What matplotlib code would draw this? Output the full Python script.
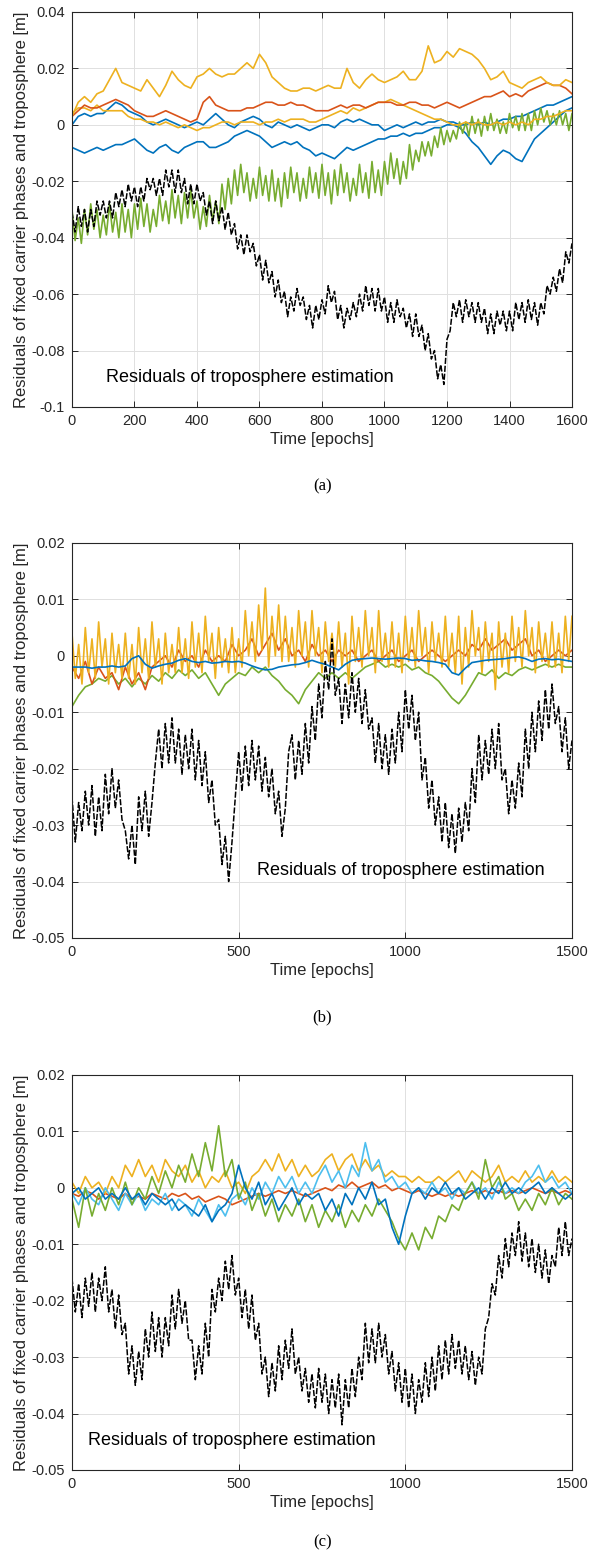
import numpy as np
import matplotlib
matplotlib.use('Agg')
import matplotlib.pyplot as plt

# residuals in mm
# smooth series: one sample every 20 epochs, noisy series: every 10 epochs
coarse = 20
fine = 10

# ---- panel (a) ----
a_yellow1 = [3, 8, 10, 8, 11, 12, 16, 20, 15, 14,
             13, 12, 16, 13, 10, 14, 19, 16, 14, 13,
             17, 18, 20, 18, 17, 18, 18, 20, 22, 20,
             25, 22, 17, 15, 13, 12, 12, 13, 13, 12,
             13, 14, 13, 13, 20, 15, 13, 16, 18, 16,
             15, 16, 17, 19, 16, 16, 19, 28, 22, 23,
             26, 24, 27, 26, 25, 23, 20, 16, 17, 19,
             15, 14, 13, 15, 16, 17, 15, 14, 14, 16,
             15]
a_yellow2 = [4, 6, 6, 5, 7, 5, 5, 5, 5, 3,
             2, 2, 1, 1, 0, 1, 0, -1, 0, -1,
             -2, -1, -1, 0, 1, 1, 0, 1, 1, 1,
             0, 1, 1, 2, 1, 2, 2, 2, 1, 1,
             2, 3, 4, 5, 4, 6, 5, 6, 7, 8,
             8, 9, 8, 7, 6, 5, 4, 3, 2, 2,
             1, 0, 0, 1, 0, 1, 0, 0, 1, 0,
             1, 0, 1, 0, 2, 2, 3, 3, 4, 5,
             5]
a_orange = [3, 5, 7, 6, 6, 7, 8, 9, 8, 7,
            5, 4, 3, 3, 4, 5, 4, 3, 2, 1,
            2, 8, 10, 7, 6, 5, 5, 5, 6, 6,
            7, 8, 8, 7, 7, 8, 7, 7, 6, 5,
            5, 5, 6, 7, 6, 7, 7, 6, 7, 8,
            8, 8, 7, 7, 8, 8, 7, 7, 6, 7,
            8, 7, 6, 7, 8, 9, 10, 10, 11, 12,
            10, 11, 10, 12, 13, 14, 15, 14, 14, 13,
            11]
a_blue1 = [0, 3, 4, 3, 4, 4, 6, 8, 7, 5,
           4, 3, 1, 0, 1, 2, 1, 0, -1, 0,
           1, 0, 2, 4, 2, 0, -1, 1, 2, 3,
           2, 0, -1, 1, 0, -1, 0, -1, -2, -1,
           0, 0, -1, 1, 2, 1, 2, 1, 0, 0,
           -2, -1, 0, -1, 0, 1, 0, 1, 1, 2,
           1, 1, 0, 0, 1, 0, 1, 0, 1, 2,
           2, 3, 3, 4, 5, 6, 7, 7, 8, 9,
           10]
a_blue2 = [-8, -9, -10, -9, -8, -9, -8, -7, -7, -6,
           -5, -7, -9, -10, -8, -7, -9, -10, -8, -7,
           -6, -6, -8, -8, -7, -6, -4, -3, -2, -3,
           -4, -6, -8, -7, -6, -7, -6, -8, -9, -11,
           -10, -11, -12, -10, -8, -9, -8, -7, -6, -5,
           -5, -4, -4, -3, -4, -3, -3, -2, -1, -1,
           0, 0, -1, -3, -6, -8, -11, -14, -11, -9,
           -10, -12, -13, -9, -5, -3, -1, 1, 3, 5,
           6]
a_green = [-30, -41, -33, -42, -30, -39, -28, -37, -30, -40,
           -32, -39, -28, -38, -31, -40, -28, -38, -30, -40,
           -28, -37, -26, -36, -28, -38, -30, -36, -25, -34,
           -27, -35, -23, -33, -25, -35, -24, -33, -23, -33,
           -27, -37, -29, -36, -25, -34, -27, -35, -21, -30,
           -19, -28, -16, -25, -14, -24, -17, -27, -19, -26,
           -15, -25, -18, -27, -16, -27, -19, -29, -17, -26,
           -15, -24, -17, -27, -19, -26, -15, -24, -17, -26,
           -14, -25, -17, -28, -16, -25, -14, -24, -17, -27,
           -19, -25, -14, -24, -17, -26, -13, -24, -16, -25,
           -13, -21, -10, -19, -12, -21, -13, -19, -7, -16,
           -9, -13, -6, -11, -6, -11, -4, -8, -1, -7,
           -2, -6, -2, -5, 1, -3, 1, -4, 3, -3,
           2, -4, 3, -2, 4, -2, 2, -3, 1, -3,
           4, -1, 3, -2, 4, -2, 4, -2, 5, 0,
           6, 1, 5, 0, 4, 0, 5, 0, 4, -2,
           4]
a_tropo = [-31, -38, -29, -36, -30, -38, -30, -36, -27, -32,
           -27, -33, -27, -33, -24, -29, -23, -29, -21, -27,
           -22, -29, -22, -27, -19, -23, -19, -25, -19, -25,
           -16, -22, -16, -24, -16, -24, -19, -28, -21, -28,
           -21, -27, -24, -32, -27, -35, -27, -34, -29, -37,
           -31, -39, -35, -44, -39, -46, -39, -45, -42, -50,
           -46, -55, -48, -56, -52, -61, -55, -63, -59, -68,
           -61, -66, -58, -64, -61, -69, -64, -72, -64, -69,
           -62, -67, -57, -63, -59, -69, -64, -72, -65, -69,
           -63, -68, -60, -66, -57, -64, -58, -66, -58, -66,
           -61, -70, -63, -70, -62, -68, -65, -72, -67, -75,
           -67, -75, -71, -80, -74, -83, -80, -90, -85, -92,
           -76, -73, -63, -68, -62, -70, -62, -68, -63, -70,
           -63, -70, -65, -74, -67, -74, -66, -71, -66, -73,
           -66, -73, -63, -69, -63, -70, -62, -69, -63, -71,
           -63, -67, -57, -60, -54, -59, -51, -56, -45, -49,
           -42]

# ---- panel (b) ----
b_orange = [-2, -4, -1, -5, -2, -4, -3, -6, -2, -5,
            -3, -6, -2, -1, 0, -2, 1, -1, 0, -2,
            1, -1, 0, -1, 2, 0, 1, 3, 0, 2,
            4, 1, 3, 0, 1, -1, 2, 0, 1, -1,
            1, 0, 1, -1, 0, 1, -1, 0, 1, -1,
            0, 1, -1, 0, 1, 0, -1, 0, 1, 0,
            2, 1, 3, 1, 2, 3, 1, 2, 3, 0,
            1, -1, 0, 1, 0, 1]
b_yellow = [4, -4, 2, -5, 5, -3, 3, -4, 6, -2,
            3, -5, 4, -3, 2, -4, 4, -4, 2, -5,
            5, -3, 3, -4, 6, -2, 3, -5, 4, -3,
            2, -3, 5, -3, 3, -4, 6, -2, 4, -3,
            7, -1, 4, -4, 5, -2, 3, -3, 5, -3,
            3, -2, 8, 0, 6, -1, 9, 1, 12, -2,
            7, 0, 9, -1, 7, -1, 5, -2, 8, 0,
            6, -2, 8, 0, 5, -3, 6, -1, 4, -2,
            6, -2, 4, -5, 7, -1, 5, -2, 8, 0,
            5, -3, 8, -1, 4, -2, 6, -2, 4, -3,
            7, -1, 5, -2, 8, 0, 5, -3, 6, -1,
            4, -2, 7, -2, 4, -3, 7, -5, 5, -2,
            8, 0, 5, -3, 6, -1, 4, -6, 6, -2,
            4, -3, 7, -1, 5, -2, 8, 0, 5, -3,
            6, -1, 4, -2, 6, -2, 4, -3, 7, -1,
            7]
b_green = [-9, -7, -5.5, -5, -4, -4.5, -3.5, -5, -4, -5.5,
           -4, -5, -3.5, -4.5, -3, -4, -2.5, -3.5, -2.5, -4,
           -3, -5, -7, -5, -4, -3, -3.5, -2, -3, -2,
           -3.5, -4.5, -6, -7, -8.5, -6, -4.5, -3, -4, -3,
           -4, -3, -4, -3, -2, -1.5, -1, -2, -1.5, -2,
           -1.5, -2.5, -2, -3, -3.5, -4.5, -6, -7.5, -8.5, -7,
           -5, -3, -3.5, -2.5, -4, -3, -3.5, -2.5, -2, -2.5,
           -2, -1.5, -2, -1.5, -2, -2]
b_blue = [-2, -2, -2, -2.2, -2, -2, -1.8, -2, -1.8, -0.5,
          0, -1.5, -2.2, -1.8, -1.5, -1.3, -0.8, -0.5, -1, -1.2,
          -1, -1.3, -1.2, -1, -1.1, -1, -1.3, -1.8, -2.2, -2.5,
          -2.4, -2, -1.8, -1.6, -1.5, -1.2, -0.8, -1.2, -1.5, -2,
          -2.5, -1.5, -0.8, -0.6, -0.5, -0.4, -0.5, -0.6, -0.5, -0.4,
          -0.5, -0.8, -0.7, -0.9, -1, -1.2, -1.5, -3, -3.4, -2.2,
          -1.2, -1, -0.8, -0.7, -0.6, -0.5, -0.3, -0.2, -0.5, -1,
          -0.6, -0.5, -0.7, -0.6, -0.8, -1]
b_tropo = [-25, -33, -26, -31, -24, -30, -23, -32, -25, -31,
           -21, -28, -20, -27, -22, -29, -31, -36, -30, -37,
           -25, -31, -24, -32, -26, -19, -13, -20, -12, -19,
           -11, -19, -13, -21, -14, -20, -13, -22, -15, -23,
           -17, -26, -22, -30, -29, -37, -32, -40, -33, -25,
           -17, -24, -16, -23, -15, -22, -16, -24, -18, -25,
           -20, -28, -24, -32, -27, -17, -14, -22, -15, -21,
           -12, -19, -9, -15, -5, -11, -1, -6, 3, -7,
           -4, -12, -5, -11, -3, -10, -4, -12, -6, -13,
           -11, -19, -12, -20, -14, -21, -13, -19, -10, -17,
           -6, -13, -7, -15, -10, -22, -18, -27, -22, -30,
           -25, -33, -26, -34, -28, -35, -27, -33, -26, -31,
           -20, -26, -14, -22, -15, -21, -13, -20, -12, -22,
           -20, -28, -22, -27, -19, -25, -13, -20, -10, -17,
           -8, -15, -6, -13, -5, -12, -9, -17, -11, -20,
           -15]

# ---- panel (c) ----
c_orange = [-1, -1.5, -0.5, -1, -2, -1, -1.5, -2, -1, -2,
            -1.5, -2, -1, -1.5, -2, -1, -1.5, -1, -2, -1.5,
            -2.5, -2, -1.5, -2, -3, -2.5, -2, -1.5, -1, -1.5,
            -1, -0.5, -1, -0.5, -1, -1.5, -1, -0.5, 0, -0.5,
            0.5, 0, 1, 0, 0.5, 1, 0, 0.5, -0.5, 0,
            -0.5, -1, -0.5, -1, -1.5, -1, -1.5, -1, -1.5, -1,
            -0.5, -1, -0.5, -1, -0.5, -1, -0.5, -1, -0.5, 0,
            -0.5, -1, -0.5, -1, -0.5, -1]
c_yellow = [1, -1, 2, 0, 1, -1, 2, 0, 4, 2,
            5, 2, 4, 1, 5, 3, 2, 4, 1, 3,
            0, 2, 1, 3, 0, 1, -1, 2, 3, 5,
            3, 6, 3, 5, 2, 4, 2, 3, 5, 6,
            3, 5, 6, 3, 5, 3, 4, 2, 3, 2,
            2, 1, 2, 1, 1, 2, 1, 2, 3, 1,
            3, 2, 1, 2, 4, 1, 2, 1, 3, 1,
            2, 1, 3, 1, 2, 1]
c_cyan = [-1, -3, 0, -2, -3, 0, -2, -4, -1, -3,
          -1, -4, -2, -3, -1, -4, -2, -3, -5, -2,
          -4, -6, -3, -5, -2, -1, -3, 0, -2, 1,
          -1, 2, 0, 2, -1, 1, -1, 2, 4, 1,
          3, 0, 4, 2, 8, 3, 5, 1, 2, 0,
          1, -1, 0, -1, 1, -1, 0, -2, 0, -1,
          1, -1, 0, -2, 1, -1, 0, -1, 1, 2,
          4, 1, 2, 0, 1, -1]
c_blue = [-1, 0, -2, -1, 0, -2, -1, -2, 0, -2,
          -1, -3, -1, -2, -3, -2, -4, -3, -4, -5,
          -3, -6, -4, -3, -1, 4, 0, -2, 1, -3,
          -1, -4, -2, 0, -3, -1, -2, -1, -4, -2,
          -5, -1, -3, 0, -2, 1, -3, -2, -7, -10,
          -5, -1, 0, -2, 0, -1, 1, -1, 0, -2,
          -1, 0, -2, 0, -1, 1, -1, 0, -1, 0,
          1, -1, 0, -1, -2, -1]
c_green = [-2, -7, 0, -5, -1, -4, 0, -3, 1, -3,
           0, -2, 2, -1, 3, 0, 4, 1, 6, 2,
           8, 3, 11, 2, 5, -2, 1, -4, -1, -5,
           -2, -6, -3, -5, -2, -6, -3, -7, -4, -6,
           -3, -7, -4, -6, -3, -5, -2, -4, -6, -9,
           -11, -8, -11, -7, -9, -5, -6, -3, -4, -1,
           1, -2, 5, 0, 2, -2, -1, -4, -2, -4,
           -1, -3, 0, -3, -1, -2]
c_tropo = [-16, -22, -17, -23, -16, -21, -15, -22, -16, -20,
           -14, -22, -18, -25, -19, -26, -24, -33, -28, -35,
           -29, -34, -25, -30, -22, -29, -23, -30, -23, -28,
           -19, -25, -18, -24, -20, -27, -27, -34, -28, -33,
           -24, -30, -18, -22, -16, -20, -13, -18, -12, -19,
           -16, -23, -18, -25, -19, -27, -24, -33, -30, -37,
           -31, -36, -28, -34, -27, -32, -25, -33, -30, -36,
           -32, -38, -33, -39, -32, -38, -33, -40, -34, -39,
           -33, -42, -34, -39, -32, -37, -30, -34, -24, -31,
           -25, -31, -24, -30, -26, -33, -29, -36, -31, -38,
           -32, -39, -33, -40, -34, -38, -31, -37, -30, -36,
           -28, -34, -27, -33, -26, -32, -27, -33, -28, -34,
           -29, -35, -30, -33, -25, -23, -17, -19, -12, -16,
           -9, -14, -8, -12, -6, -13, -8, -14, -9, -15,
           -10, -16, -11, -17, -12, -14, -7, -12, -6, -12,
           -9]

blue = '#0072BD'
orange = '#D95319'
yellow = '#EDB120'
green = '#77AC30'
cyan = '#4DBEEE'

plt.rcParams['font.family'] = ['Liberation Sans', 'DejaVu Sans']

fig = plt.figure(figsize=(5.9, 15.57), dpi=100)

panels = [
    dict(bottom=0.7386,
         series=[(a_blue2, blue, coarse), (a_blue1, blue, coarse), (a_green, green, fine),
                 (a_yellow2, yellow, coarse), (a_orange, orange, coarse), (a_yellow1, yellow, coarse)],
         tropo=a_tropo, xmax=1600, xt=np.arange(0, 1601, 200), ylim=(-0.1, 0.04),
         yt=np.arange(-0.1, 0.041, 0.02), txt=(110, -0.0895), lab='(a)', laby=0.6875),
    dict(bottom=0.3976,
         series=[(b_green, green, coarse), (b_orange, orange, coarse), (b_yellow, yellow, fine),
                 (b_blue, blue, coarse)],
         tropo=b_tropo, xmax=1500, xt=np.arange(0, 1501, 500), ylim=(-0.05, 0.02),
         yt=np.arange(-0.05, 0.021, 0.01), txt=(555, -0.038), lab='(b)', laby=0.3465),
    dict(bottom=0.0559,
         series=[(c_orange, orange, coarse), (c_yellow, yellow, coarse), (c_cyan, cyan, coarse),
                 (c_green, green, coarse), (c_blue, blue, coarse)],
         tropo=c_tropo, xmax=1500, xt=np.arange(0, 1501, 500), ylim=(-0.05, 0.02),
         yt=np.arange(-0.05, 0.021, 0.01), txt=(48, -0.0447), lab='(c)', laby=0.0095),
]


def fmt(v):
    s = '%g' % round(v, 4)
    return '0' if s in ('-0', '0') else s


for p in panels:
    ax = fig.add_axes([0.122, p['bottom'], 0.8475, 0.2537])
    for vals, col, st in p['series']:
        x = np.arange(len(vals)) * st
        ax.plot(x, np.array(vals) / 1000.0, color=col, lw=1.2)
    xt = np.arange(len(p['tropo'])) * fine
    ax.plot(xt, np.array(p['tropo']) / 1000.0, color='black', lw=1.1,
            linestyle=(0, (4, 1.2)))
    ax.set_xlim(0, p['xmax'])
    ax.set_ylim(*p['ylim'])
    ax.set_xticks(p['xt'])
    ax.set_yticks(p['yt'])
    ax.set_yticklabels([fmt(v) for v in p['yt']])
    ax.grid(True, color='#e0e0e0', lw=0.7)
    ax.set_axisbelow(True)
    ax.tick_params(direction='in', top=True, right=True, length=4, width=0.7,
                   colors='#262626', labelsize=10.5, pad=5)
    for s in ax.spines.values():
        s.set_color('#262626')
        s.set_linewidth(0.8)
    ax.set_xlabel('Time [epochs]', fontsize=12, color='#262626', labelpad=3)
    ax.set_ylabel('Residuals of fixed carrier phases and troposphere [m]',
                  fontsize=12, color='#262626', labelpad=2)
    ax.text(p['txt'][0], p['txt'][1], 'Residuals of troposphere estimation',
            fontsize=13, va='center', ha='left', color='black')
    fig.text(0.546, p['laby'], p['lab'], ha='center', va='center',
             family=['Liberation Serif', 'DejaVu Serif'], fontsize=12)

fig.savefig('out.png', dpi=100)
